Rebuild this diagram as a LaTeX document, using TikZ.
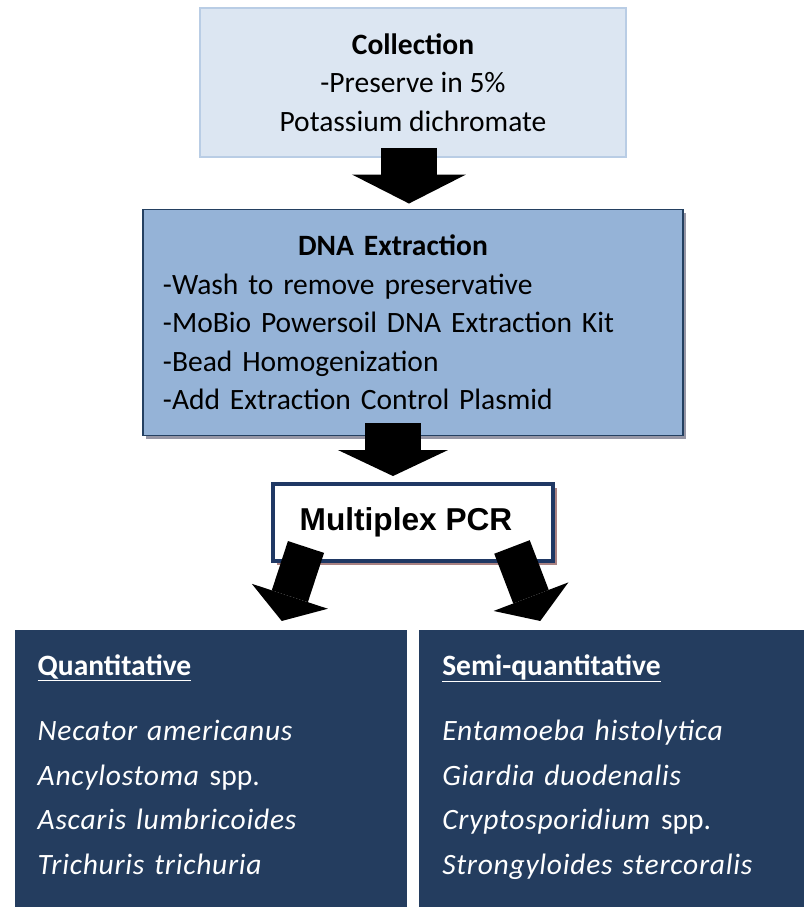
\documentclass[tikz,border=0pt]{standalone}
\usepackage{fontspec}
\setmainfont{Carlito}[ItalicFeatures={LetterSpace=2.5}]
\newfontfamily\arialfont{Liberation Sans}
\usetikzlibrary{arrows.meta,positioning,shadows}
\definecolor{collfill}{RGB}{220,230,242}
\definecolor{collline}{RGB}{185,205,229}
\definecolor{dnafill}{RGB}{149,179,215}
\definecolor{dnaline}{RGB}{36,64,97}
\definecolor{dnashadow}{RGB}{150,150,165}
\definecolor{pcrline}{RGB}{31,56,100}
\definecolor{pcrshadow}{RGB}{170,130,130}
\definecolor{navy}{RGB}{36,61,95}

\begin{document}
\begin{tikzpicture}[node distance=6cm,
  blockarrow/.style n args={3}{line width=#1,-{Triangle[width=#2,length=#3,line width=0pt]}},
  speciesbox/.style={rectangle,fill=navy,text=white,text width=8.65cm,inner xsep=0.575cm,inner ysep=0.6cm,align=left,font=\fontsize{21}{31.7}\selectfont}]

  \useasboundingbox (-10.325,2.0625) rectangle (9.775,-20.6125);

  \node[rectangle,draw=collline,line width=1.2pt,fill=collfill,minimum width=10.65cm,minimum height=3.725cm,align=center,font=\fontsize{21}{27.4}\selectfont] (coll) at (0,0) {\textbf{Collection}\\-Preserve in 5\%\\Potassium dichromate};
  \node[rectangle,draw=dnaline,line width=1.4pt,fill=dnafill,general shadow={fill=dnashadow,shadow xshift=0.08cm,shadow yshift=-0.08cm},text width=12.5cm,inner xsep=0.5cm,minimum height=5.65cm,align=left,font=\fontsize{21}{27.4}\selectfont,below of=coll] (dna) {{\centering\hspace*{-1cm}\textbf{DNA Extraction}\par}
    -Wash to remove preservative\\
    -MoBio Powersoil DNA Extraction Kit\\
    -Bead Homogenization\\
    -Add Extraction Control Plasmid};
  \node[rectangle,draw=pcrline,line width=2.8pt,fill=white,general shadow={fill=pcrshadow,shadow xshift=0.1cm,shadow yshift=-0.1cm},minimum width=7cm,minimum height=1.925cm,font=\arialfont\bfseries\fontsize{22.5}{26}\selectfont,below of=dna,node distance=5cm] (pcr) {Multiplex PCR\hspace*{0.35cm}};

  \node[speciesbox,anchor=north east] (quant) at ([xshift=-0.15cm,yshift=-1.675cm]pcr.south) {\textbf{\underline{Quantitative}}\\[15pt]
    \textit{Necator americanus}\\
    \textit{Ancylostoma} spp.\\
    \textit{Ascaris lumbricoides}\\
    \textit{Trichuris trichuria}\rule[-1cm]{0pt}{1cm}};
  \node[speciesbox,anchor=north west] (semi) at ([xshift=0.15cm,yshift=-1.675cm]pcr.south) {\textbf{\underline{Semi-quantitative}}\\[15pt]
    \textit{Entamoeba histolytica}\\
    \textit{Giardia duodenalis}\\
    \textit{Cryptosporidium} spp.\\
    \textit{Strongyloides stercoralis}\rule[-1cm]{0pt}{1cm}};

  \draw[blockarrow={1.4cm}{2.85cm}{0.725cm}] ([xshift=-0.1cm,yshift=0.25cm]coll.south) -- ([xshift=-0.1cm,yshift=0.125cm]dna.north);
  \draw[blockarrow={1.4cm}{2.75cm}{0.65cm}] ([xshift=-0.5cm,yshift=0.325cm]dna.south) -- ([xshift=-0.5cm,yshift=0.15cm]pcr.north);
  \draw[blockarrow={0.95cm}{2cm}{0.65cm}] ([xshift=-2.675cm,yshift=0.4cm]pcr.south) -- ([xshift=1.775cm,yshift=0.225cm]quant.north);
  \draw[blockarrow={0.95cm}{2cm}{0.65cm}] ([xshift=2.475cm,yshift=0.4cm]pcr.south) -- ([xshift=-1.875cm,yshift=0.225cm]semi.north);

\end{tikzpicture}
\end{document}
